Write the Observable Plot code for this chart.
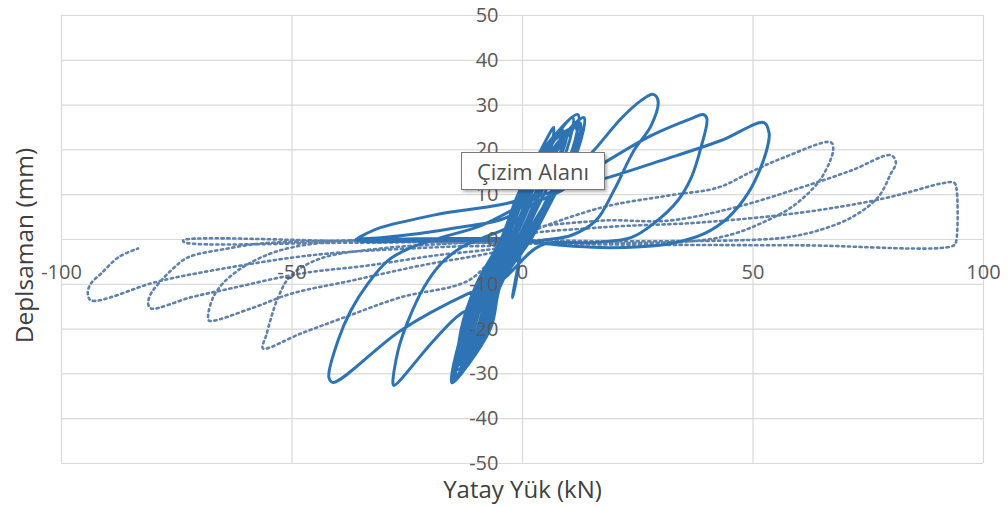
<!DOCTYPE html>
<html><head><meta charset="utf-8">
<script src="https://cdn.jsdelivr.net/npm/d3@7"></script>
<script src="https://cdn.jsdelivr.net/npm/@observablehq/plot@0.6"></script>
<style>
html,body{margin:0;padding:0;background:#fff;}
#wrap{position:relative;width:1008px;height:507px;overflow:hidden;}
#wrap svg{position:absolute;left:0;top:0;}
#tip{position:absolute;left:461px;top:152px;width:142px;height:36px;border:1px solid #7a7a7a;background:#fff;box-shadow:2px 2px 3px rgba(0,0,0,0.3);font:22px "Open Sans",sans-serif;color:#505050;line-height:36px;text-align:center;z-index:2;white-space:nowrap;}
</style></head><body><div id="wrap"><div id="tip">Çizim Alanı</div></div>
<script>
// tick values
const xTicks = [-100, -50, 0, 50, 100];
const yTicks = [-50, -40, -30, -20, -10, 0, 10, 20, 30, 40, 50];

// solid series (Yatay Yük kN, Deplasman mm)
const solidSpike = [[0,0],[-1,-6],[-2.2,-13],[-1.5,-10],[-0.3,-2]];
const solidCycles = [
  [0,0],[2,6],[3.5,12],[4.5,17],[3,14],[1,7],[-2,0],[-4.5,-7],[-7,-12],[-8.5,-15],[-6,-12],[-3.5,-6],[-0.5,0],[3,8],
  [6.8,25],[4,20],[-1,10],[-4.7,0],[-10,-10],[-13.3,-20],[-14,-29],[-8.9,-20],[-6.3,-10],[-0.2,0],[4.6,10],[9.6,20],
  [10.9,27.2],[5.2,20],[0.2,10],[-3.7,0],[-9.2,-10],[-12.4,-20],[-15,-31.5],[-7,-20],[-4.7,-10],[1.8,0],[7,10],[12,20],
  [13.3,27.2],[6.4,20],[1.4,10],[-2.7,0],[-8.4,-10],[-11.4,-20],[-14.5,-30.5],[-8,-20],[-5.5,-10],[0.8,0],[5.8,10],[10.8,20],
  [12,27.9],[4.4,20],[-0.6,10],[-4.4,0],[-9.7,-10],[-13,-20],[-15.3,-32],[-7.3,-20],[-5,-10],[1.5,0],[6.6,10],[11.6,20],
  [12.5,26],[7.6,20],[2.6,10],[-1.8,0],[-7.6,-10],[-10.5,-20],[-13,-27],[-9.8,-20],[-7.1,-10],[-1.1,0],[3.4,10],[8.4,20],
  [8.8,24.3],[5.6,20],[0.6,10],[-3.4,0],[-8.9,-10],[-12,-20],[-15,-31],[-7.6,-20],[-5.2,-10],[1.2,0],[6.2,10],[11.2,20],
  [11.5,25],[4.8,20],[-0.2,10],[-4,0],[-9.5,-10],[-12.7,-20],[-14.5,-31],[-9.5,-20],[-6.8,-10],[-0.8,0],[3.8,10],[8.8,20],
  [9.5,23],[6.8,20],[1.8,10],[-2.4,0],[-8.1,-10],[-11.1,-20],[-13.5,-28],[-8.6,-20],[-6,-10],[0.2,0],[5,8]
];
const solidLoopA = [[8.4,12.1],[15.5,19.9],[21.4,27],[25.7,31],[28.3,32.4],[29.4,31],[27.9,25.4],[24.2,19.9],[19.8,10.9],[15.9,4.2],[10.5,0.9],[4,-0.2],[-0.3,-1.3],[-6.8,-13.6],[-13.3,-16.5],[-19.2,-22.5],[-27.9,-32.6],[-28.1,-32.2],[-27,-24.8],[-24.8,-18.1],[-21.4,-10.7],[-17.7,-5.4],[-13.3,-1.8],[-9,0.2],[-2.5,3.1]];
const solidLoopB = [[1.8,7.6],[8.4,10.9],[18.5,17.6],[27.9,23.2],[36.6,27],[39.2,27.9],[40,27],[38.7,20.5],[36.6,13.8],[33.7,8.7],[28.5,3.6],[23.5,0.4],[14.9,-0.7],[4,-1.3],[-4.7,-9.2],[-11.8,-12.1],[-26.4,-20.3],[-41.1,-31.9],[-42,-30.8],[-40,-22.5],[-37.2,-15.8],[-33.5,-9.8],[-29.2,-4.7],[-24.2,-1.8],[-17.7,0.4],[-9,3.1],[-0.3,7.6]];
const solidLoopC = [[4,9.8],[18.5,13.8],[30,17.6],[43.1,22.1],[52.4,26.1],[53.5,23.7],[53.3,21.4],[51.7,16.1],[48.9,10.3],[44.6,4.9],[39.4,1.3],[32.2,-0.9],[25.7,-1.6],[17,-1.8],[8.4,-1.3],[-0.3,-0.4]];
const solidTail = [[-18,-0.2],[-36.1,-0.1],[-33.5,1.5],[-30.7,2.7],[-19,5.5],[0.3,9.4],[3,13],[-1.8,5.8],[-15,2.5],[-30.7,0.4],[-36.1,0.1],[-18,0.2],[0,0.3]];

// dotted series
const dotN4 = [[-0.3,0],[-4.7,-2.5],[-11.8,-9.2],[-26.4,-12.9],[-38.7,-17.4],[-48.1,-21],[-56.3,-24.3],[-55.6,-21.4],[-53,-12.9],[-50.2,-8],[-43.7,-4.2],[-30.7,-2],[-15.5,-0.9],[-0.3,0]];
const dotP1 = [[1.8,1.6],[17,7.1],[31.6,9.8],[42.4,11.6],[50.2,15.4],[56.7,18.3],[66.9,21.7],[67.4,20],[65.4,14.7],[63.2,11.6],[58.2,7.1],[51.7,3.6],[45.9,1.3],[38.7,-0.2],[17,-0.9],[-0.3,-0.9]];
const dotN3 = [[-4.7,-2.5],[-22,-5.8],[-37.2,-9.2],[-50.2,-12.1],[-58.9,-15.4],[-68,-18.1],[-68.2,-17],[-67.1,-12.9],[-65,-9.8],[-61.7,-6.9],[-56.7,-4],[-50.2,-1.8],[-37.2,-0.2],[-15.5,0],[-0.3,0.2]];
const dotP2 = [[-0.3,1.6],[17,4.2],[31.6,4.2],[45.9,7.1],[60.4,11.6],[71.3,15.4],[79.9,18.8],[81,17.2],[79.9,14.7],[77.1,9.4],[71.3,4.9],[64.1,2],[56.7,0.4],[45.9,-0.2],[17,-0.4],[-0.3,-0.4]];
const dotN2 = [[-4.7,-1.8],[-19.2,-3.6],[-33.5,-5.8],[-48.1,-7.6],[-63.2,-10.9],[-71.9,-12.9],[-80.6,-15.4],[-81.2,-14.3],[-80.6,-12.1],[-78.4,-9.2],[-75.6,-6.3],[-72.6,-4],[-63.9,-2],[-56.7,-0.9],[-37.2,-0.2],[-0.3,0]];
const dotP3 = [[-0.3,0.7],[17,2.7],[38.7,3.8],[60.4,6],[76.3,8.7],[83.6,10.5],[90.8,12.5],[93.6,12.7],[94.1,11.6],[94.1,-0.2],[93.6,-1.3],[60.4,-1.3],[17,-1.1],[-0.3,-0.9],[-36,-0.4],[-73.6,-0.2],[-73.4,-0.6],[-36,-0.7],[-0.3,-0.6]];
const dotN1 = [[-4.7,-1.3],[-15.5,-1.6],[-39.4,-2.9],[-49.6,-4],[-63.9,-6.3],[-76.3,-8.7],[-80.6,-9.8],[-93.6,-13.6],[-94.3,-11.8],[-93.6,-9.8],[-91.4,-7.6],[-87.7,-4],[-83.4,-2]];

const solid = [].concat(solidSpike, solidCycles, solidLoopA, solidLoopB, solidLoopC, solidTail);
const dotted = [].concat(dotN4, dotP1, dotN3, dotP2, dotN2, dotP3, dotN1);

const font = "'Open Sans', sans-serif";
const chart = Plot.plot({
  width: 1008, height: 507,
  marginLeft: 61, marginRight: 25, marginTop: 15, marginBottom: 44,
  x: {domain: [-100, 100], axis: null},
  y: {domain: [-50, 50], axis: null},
  style: {fontFamily: font, background: "#fff", overflow: "visible"},
  marks: [
    Plot.ruleX(xTicks, {x: d => d, stroke: "#d9d9d9", strokeWidth: 1.2, strokeOpacity: 1}),
    Plot.ruleY(yTicks, {y: d => d, stroke: "#d9d9d9", strokeWidth: 1.2, strokeOpacity: 1}),
    Plot.line(dotted, {x: d => d[0], y: d => d[1], curve: "catmull-rom", stroke: "#5f82ab", strokeWidth: 2.6, strokeDasharray: "2.2,3.6"}),
    Plot.line(solid, {x: d => d[0], y: d => d[1], curve: "catmull-rom", stroke: "#2e74b5", strokeWidth: 3}),
    Plot.text(yTicks, {x: 0, y: d => d, text: d => String(d), textAnchor: "end", dx: -24, fontSize: 20, fill: "#595959"}),
    Plot.text(xTicks, {x: d => d, y: 0, text: d => String(d), dy: 33, fontSize: 20, fill: "#595959"}),
    Plot.text(["Yatay Yük (kN)"], {frameAnchor: "bottom", text: d => d, dy: 27, lineAnchor: "middle", textAnchor: "middle", fontSize: 24, fill: "#404040"}),
    Plot.text(["Deplsaman (mm)"], {frameAnchor: "left", text: d => d, dx: -36, dy: 6, rotate: -90, textAnchor: "middle", lineAnchor: "middle", fontSize: 24.5, fill: "#404040"})
  ]
});
document.getElementById("wrap").appendChild(chart);
</script>
</body></html>
